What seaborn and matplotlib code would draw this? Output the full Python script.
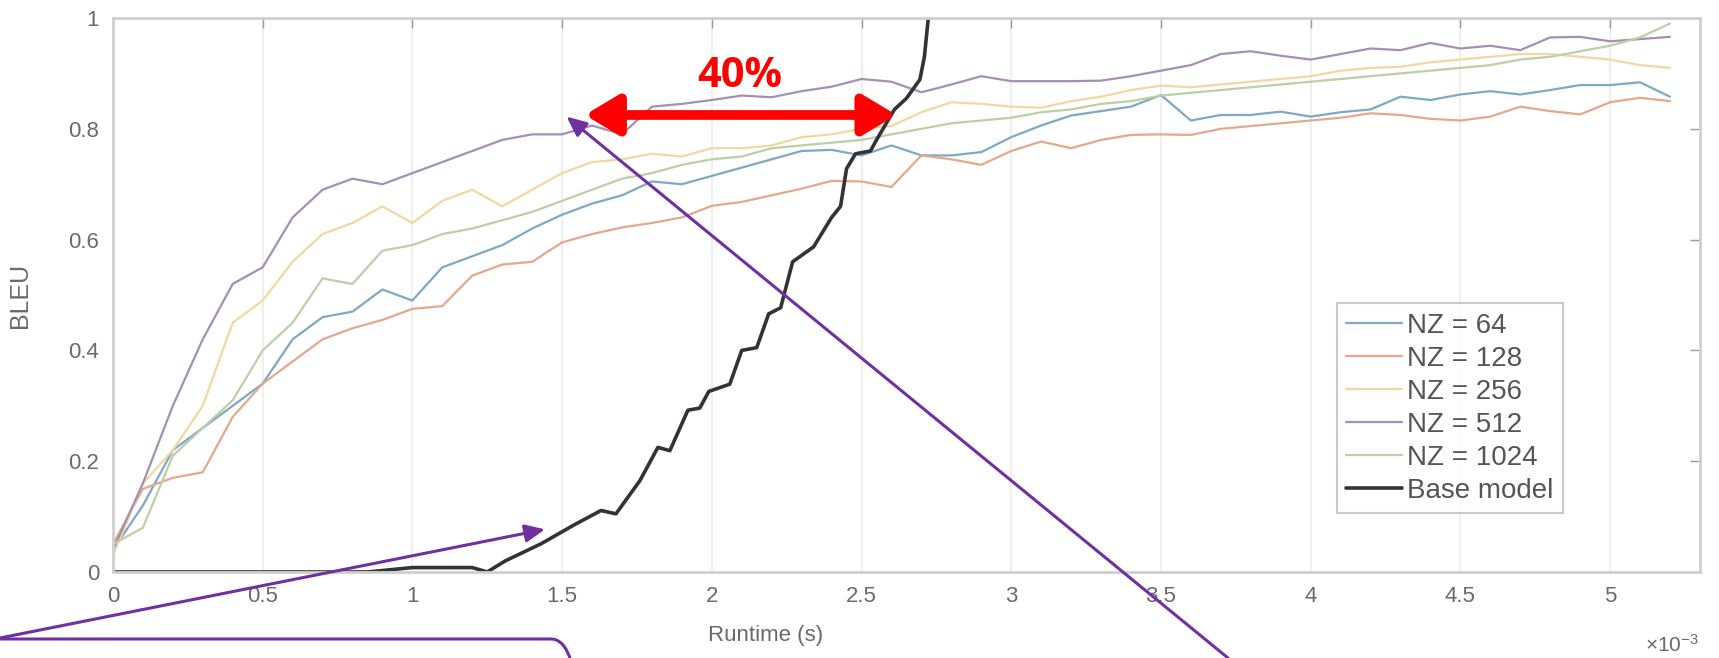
import matplotlib
matplotlib.use("Agg")
import matplotlib.pyplot as plt
from matplotlib.patches import FancyBboxPatch
import seaborn as sns
import pandas as pd

# ---------------- data (runtime in units of 1e-3 s) ----------------
runtime = [0.0, 0.1, 0.2, 0.3, 0.4, 0.5, 0.6, 0.7, 0.8, 0.9,
           1.0, 1.1, 1.2, 1.3, 1.4, 1.5, 1.6, 1.7, 1.8, 1.9,
           2.0, 2.1, 2.2, 2.3, 2.4, 2.5, 2.6, 2.7, 2.8, 2.9,
           3.0, 3.1, 3.2, 3.3, 3.4, 3.5, 3.6, 3.7, 3.8, 3.9,
           4.0, 4.1, 4.2, 4.3, 4.4, 4.5, 4.6, 4.7, 4.8, 4.9,
           5.0, 5.1, 5.2]

nz64 = [0.04, 0.12, 0.22, 0.26, 0.30, 0.34, 0.42, 0.46, 0.47, 0.51,
        0.49, 0.55, 0.57, 0.59, 0.62, 0.645, 0.665, 0.68, 0.705, 0.70,
        0.715, 0.73, 0.745, 0.76, 0.762, 0.752, 0.77, 0.752, 0.752, 0.758,
        0.785, 0.806, 0.824, 0.832, 0.84, 0.861, 0.815, 0.825, 0.825, 0.831,
        0.822, 0.83, 0.835, 0.858, 0.852, 0.862, 0.868, 0.862, 0.87, 0.879,
        0.879, 0.884, 0.858]

nz128 = [0.05, 0.15, 0.17, 0.18, 0.28, 0.34, 0.38, 0.42, 0.44, 0.455,
         0.475, 0.48, 0.535, 0.555, 0.56, 0.595, 0.61, 0.622, 0.63, 0.64,
         0.661, 0.668, 0.68, 0.692, 0.706, 0.705, 0.695, 0.752, 0.745, 0.735,
         0.76, 0.777, 0.765, 0.78, 0.789, 0.79, 0.789, 0.80, 0.805, 0.81,
         0.815, 0.82, 0.828, 0.825, 0.818, 0.815, 0.822, 0.84, 0.832, 0.826,
         0.848, 0.856, 0.85]

nz256 = [0.03, 0.16, 0.22, 0.30, 0.45, 0.49, 0.56, 0.61, 0.63, 0.66,
         0.63, 0.67, 0.69, 0.66, 0.69, 0.72, 0.74, 0.745, 0.755, 0.75,
         0.765, 0.765, 0.77, 0.785, 0.79, 0.80, 0.805, 0.83, 0.848, 0.845,
         0.84, 0.838, 0.85, 0.858, 0.87, 0.878, 0.875, 0.88, 0.885, 0.89,
         0.895, 0.905, 0.91, 0.912, 0.92, 0.925, 0.93, 0.935, 0.935, 0.93,
         0.925, 0.915, 0.91]

nz512 = [0.04, 0.16, 0.30, 0.42, 0.52, 0.55, 0.64, 0.69, 0.71, 0.70,
         0.72, 0.74, 0.76, 0.78, 0.79, 0.79, 0.806, 0.79, 0.84, 0.845,
         0.852, 0.86, 0.857, 0.868, 0.876, 0.89, 0.885, 0.866, 0.88, 0.895,
         0.886, 0.886, 0.886, 0.887, 0.895, 0.905, 0.915, 0.935, 0.94, 0.932,
         0.925, 0.935, 0.945, 0.942, 0.955, 0.945, 0.95, 0.942, 0.965, 0.966,
         0.958, 0.962, 0.966]

nz1024 = [0.05, 0.08, 0.21, 0.26, 0.31, 0.40, 0.45, 0.53, 0.52, 0.58,
          0.59, 0.61, 0.62, 0.635, 0.65, 0.67, 0.69, 0.71, 0.72, 0.735,
          0.745, 0.75, 0.765, 0.77, 0.775, 0.78, 0.79, 0.80, 0.81, 0.815,
          0.82, 0.83, 0.835, 0.845, 0.85, 0.86, 0.865, 0.87, 0.875, 0.88,
          0.885, 0.89, 0.895, 0.90, 0.905, 0.91, 0.915, 0.925, 0.93, 0.94,
          0.95, 0.965, 0.99]

base_runtime = [0.0, 0.5, 0.85, 1.0, 1.2, 1.25, 1.31, 1.43, 1.54, 1.63,
                1.68, 1.76, 1.82, 1.86, 1.92, 1.96, 1.99, 2.06, 2.10, 2.15,
                2.19, 2.23, 2.27, 2.34, 2.40, 2.43, 2.45, 2.48, 2.53, 2.55,
                2.61, 2.65, 2.695, 2.71, 2.723]
base_bleu = [0.0, 0.0, 0.0, 0.008, 0.008, 0.0, 0.02, 0.051, 0.085, 0.111,
             0.105, 0.165, 0.225, 0.219, 0.292, 0.296, 0.326, 0.339, 0.40, 0.405,
             0.466, 0.477, 0.56, 0.587, 0.64, 0.66, 0.728, 0.755, 0.76, 0.78,
             0.835, 0.855, 0.889, 0.93, 1.0]

labels = ["NZ = 64", "NZ = 128", "NZ = 256", "NZ = 512", "NZ = 1024"]
x_ticks = [0, 0.5, 1, 1.5, 2, 2.5, 3, 3.5, 4, 4.5, 5]
x_ticklabels = ["0", "0.5", "1", "1.5", "2", "2.5", "3", "3.5", "4", "4.5", "5"]
y_ticks = [0, 0.2, 0.4, 0.6, 0.8, 1]
y_ticklabels = ["0", "0.2", "0.4", "0.6", "0.8", "1"]

# ---------------- style ----------------
sns.set_theme(style="white")
plt.rcParams["font.family"] = ["Liberation Sans", "DejaVu Sans"]
plt.rcParams["mathtext.default"] = "regular"

colors = ["#7fa8c4", "#e3a88e", "#efd9a0", "#a58fb2", "#bccfa6"]
grey_txt = "#6a6a6a"

fig = plt.figure(figsize=(17.19, 6.58), dpi=100)
ax = fig.add_axes([0.0657, 0.1307, 0.9232, 0.8419])

df = pd.concat([
    pd.DataFrame({"runtime": runtime, "bleu": vals, "series": lab})
    for lab, vals in zip(labels, [nz64, nz128, nz256, nz512, nz1024])
])
base_df = pd.DataFrame({"runtime": base_runtime, "bleu": base_bleu,
                        "series": "Base model"})

for i, lab in enumerate(labels):
    sns.lineplot(data=df[df["series"] == lab], x="runtime", y="bleu",
                 color=colors[i], lw=1.6, ax=ax, label=lab,
                 estimator=None, sort=False)
sns.lineplot(data=base_df, x="runtime", y="bleu", color="#333333", lw=2.6,
             ax=ax, label="Base model", estimator=None, sort=False)

ax.set_xlim(0, 5.3)
ax.set_ylim(0, 1)
ax.set_xticks(x_ticks)
ax.set_xticklabels(x_ticklabels)
ax.set_yticks(y_ticks)
ax.set_yticklabels(y_ticklabels)
ax.tick_params(direction="in", length=7, width=1, colors="#9a9a9a",
               labelcolor=grey_txt, labelsize=16, top=True, right=True,
               pad=10)
ax.xaxis.grid(True, color="#f0f0f0", lw=1.5)
ax.yaxis.grid(False)
for s in ax.spines.values():
    s.set_color("#cfcfcf")
    s.set_linewidth(2)

ax.set_xlabel("Runtime (s)", fontsize=16, color=grey_txt)
ax.set_ylabel("BLEU", fontsize=18, color=grey_txt)
ax.xaxis.set_label_coords(0.411, -0.095)
ax.yaxis.set_label_coords(-0.051, 0.5)
fig.text(1699 / 1719, 0.02, r"$\times10^{-3}$", ha="right", va="center",
         fontsize=15, color=grey_txt)

leg = ax.legend(loc="lower right", bbox_to_anchor=(0.914, 0.106),
                borderaxespad=0, fontsize=20, frameon=True, fancybox=False,
                handlelength=2.0, handletextpad=0.2, labelspacing=0.25,
                borderpad=0.35)
leg.get_frame().set_edgecolor("#bdbdbd")
leg.get_frame().set_linewidth(1.5)
for t in leg.get_texts():
    t.set_color("#555555")

# ---------------- annotations ----------------
ax.annotate("", xy=(2.617, 0.825), xytext=(1.576, 0.825),
            arrowprops=dict(arrowstyle="<|-|>,head_length=1.0,head_width=0.6",
                            lw=7, color="red", mutation_scale=20,
                            shrinkA=0, shrinkB=0))
ax.text(2.094, 0.895, "40%", color="red", fontsize=30, fontweight="bold",
        ha="center", va="center", family=["Open Sans", "DejaVu Sans"])

purple = "#7030A0"
ax.annotate("", xy=(1.443, 0.077), xycoords="data",
            xytext=(0.0, 20 / 658), textcoords="figure fraction",
            arrowprops=dict(arrowstyle="-|>,head_length=1.0,head_width=0.45",
                            lw=2.2, color=purple, mutation_scale=12,
                            shrinkA=0, shrinkB=0),
            annotation_clip=False)
ax.annotate("", xy=(1.515, 0.822), xycoords="data",
            xytext=(1228 / 1719, 0.0), textcoords="figure fraction",
            arrowprops=dict(arrowstyle="-|>,head_length=1.0,head_width=0.45",
                            lw=2.2, color=purple, mutation_scale=12,
                            shrinkA=0, shrinkB=0),
            annotation_clip=False)

box = FancyBboxPatch((-0.5, -1.0), 6.28, 1.19,
                     boxstyle="round,pad=0,rounding_size=0.27",
                     transform=fig.dpi_scale_trans, facecolor="none",
                     edgecolor=purple, lw=2.2, clip_on=False)
fig.patches.append(box)

fig.savefig("out.png", dpi=100)
